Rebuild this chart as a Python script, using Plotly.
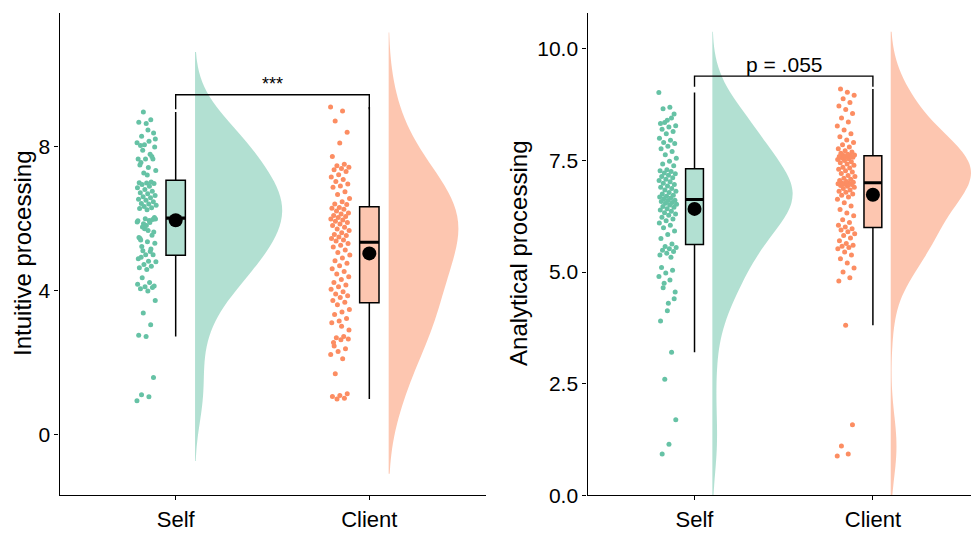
import numpy as np
import plotly.graph_objects as go

# ---------------- data ----------------
categories = ["Self", "Client"]
y_titles = ["Intuitive processing", "Analytical processing"]

intuitive_self = [
    0.93, 1.04, 1.10, 1.58, 2.72, 2.75, 3.04, 3.37, 3.72, 3.98,
    4.04, 4.08, 4.10, 4.17, 4.22, 4.35, 4.12, 4.58, 4.63, 4.67,
    4.72, 4.79, 4.81, 4.92, 4.99, 4.99, 4.88,
    5.08, 5.10, 5.31, 5.35, 5.44, 5.53, 5.71, 5.90, 5.94, 5.22,
    5.62, 5.80, 5.47, 5.15, 5.85, 5.98, 5.66, 5.40, 5.97, 5.99,
    5.93, 5.88, 5.76,
    6.02, 6.24, 6.27, 6.29, 6.33, 6.36, 6.40, 6.41, 6.46, 6.50,
    6.53, 6.57, 6.60, 6.63, 6.68, 6.71, 6.75, 6.80, 6.85, 6.89,
    6.94, 6.97, 6.98,
    6.99, 7.01, 7.26, 7.33, 7.41, 7.55, 7.65, 7.65, 7.65, 7.78,
    7.89, 7.98, 7.20, 7.48, 7.72,
    8.04, 8.10, 8.14, 8.28, 8.37, 8.63, 8.67, 8.74, 8.95, 8.20,
    8.45, 8.02,
]

intuitive_client = [
    9.09, 8.98, 8.70, 8.39, 8.09,
    7.72, 7.50, 7.46, 7.42, 7.38, 7.35, 7.30, 7.21, 7.15, 7.08, 7.02,
    6.95, 6.90, 6.86, 6.74, 6.66, 6.55, 6.46, 6.40, 6.38,
    6.30, 6.28, 6.25, 6.20, 6.15, 6.12, 6.08, 6.05, 6.02, 5.98,
    5.95, 5.92, 5.88, 5.84, 5.80, 5.75, 5.70, 5.66, 5.60, 5.55,
    5.52, 5.48, 5.44, 5.40, 5.37,
    5.30, 5.25, 5.20, 5.12, 5.05, 4.98, 4.90, 4.82, 4.75, 4.68,
    4.60, 4.52, 4.45, 4.38, 4.30, 4.22, 4.15, 4.10, 4.03, 3.96,
    3.90, 3.85, 3.80, 3.72, 3.67,
    3.60, 3.47, 3.40, 3.33, 3.22, 3.15, 3.10, 2.72, 2.68, 2.65,
    2.63, 2.55, 2.38, 2.30, 2.22, 2.10, 1.68, 1.13, 1.08, 1.05,
    1.00, 0.98, 2.90, 3.00, 2.45,
]

analytical_self = [
    9.02, 8.69, 8.66, 8.54, 8.40, 8.33, 8.45, 8.35, 8.28, 8.25,
    8.20, 8.15, 8.10, 8.00, 7.95, 7.90, 7.88, 7.82, 7.76, 7.70,
    7.63, 7.55, 7.48, 7.42, 7.38,
    7.29, 7.27, 7.25, 7.22, 7.20, 7.17, 7.14, 7.11, 7.08, 7.05,
    7.02, 6.99, 6.96, 6.93, 6.90, 6.87, 6.84, 6.81, 6.78, 6.75,
    6.72, 6.70, 6.68, 6.66, 6.64,
    6.61, 6.60, 6.58, 6.56, 6.54, 6.52, 6.50, 6.47, 6.45, 6.42,
    6.39, 6.36, 6.33, 6.30, 6.27, 6.23, 6.19, 6.15, 6.10, 6.05,
    5.99, 5.92, 5.84, 5.75, 5.63,
    5.57, 5.55, 5.52, 5.49, 5.46, 5.42, 5.38, 5.33, 4.75, 4.55,
    4.30, 5.10, 5.04, 4.98, 4.90, 4.82, 4.65, 4.40, 4.13, 3.90,
    3.20, 2.60, 1.69, 1.14, 0.92,
]

analytical_client = [
    0.88, 0.92, 1.10, 1.58,
    3.81, 4.80, 4.87, 5.00, 5.09, 5.20, 5.30, 5.38, 5.45, 5.52,
    5.55, 5.58, 5.60, 5.64, 5.70, 5.76, 5.82, 5.86, 5.90, 5.94, 5.97,
    6.01, 6.05, 6.11, 6.17, 6.26, 6.32, 6.40, 6.48, 6.55, 6.63,
    6.68, 6.72, 6.75, 6.79, 6.81, 6.84, 6.87, 6.90, 6.92, 6.94,
    6.96, 6.97, 6.98, 6.99, 6.99,
    7.01, 7.03, 7.05, 7.08, 7.10, 7.14, 7.16, 7.21, 7.24, 7.27,
    7.30, 7.33, 7.35, 7.39, 7.42, 7.45, 7.47, 7.50, 7.52, 7.54,
    7.56, 7.57, 7.58, 7.59, 7.60,
    7.61, 7.62, 7.64, 7.66, 7.69, 7.72, 7.76, 7.80, 7.85, 7.90,
    7.96, 8.03, 8.10, 8.18, 8.27, 8.36, 8.45, 8.55, 8.64, 8.72,
    8.80, 8.88, 8.96, 9.03, 9.10,
]

sig_labels = ["***", "p = .055"]

# ---------------- styling ----------------
point_colors = ["#66C2A5", "#FC8D62"]
fill_colors = ["rgba(102,194,165,0.5)", "rgba(252,141,98,0.5)"]
violin_widths = [[0.9, 0.72], [0.9, 0.9]]   # full widths (half-violin reaches half of it)
FONT = "Liberation Sans, Arial, sans-serif"
W, H = 971, 538
BW_ADJUST = 1.5


def nrd0(v):
    v = np.asarray(v, float)
    sd = v.std(ddof=1)
    q75, q25 = np.percentile(v, [75, 25])
    lo = min(sd, (q75 - q25) / 1.34)
    return 0.9 * lo * len(v) ** -0.2


def box_stats(v):
    v = np.asarray(v, float)
    q1, med, q3 = np.percentile(v, [25, 50, 75])
    iqr = q3 - q1
    lo = v[v >= q1 - 1.5 * iqr].min()
    hi = v[v <= q3 + 1.5 * iqr].max()
    return q1, med, q3, lo, hi


fig = go.Figure()

panels = [
    ("x", "y", [intuitive_self, intuitive_client]),
    ("x2", "y2", [analytical_self, analytical_client]),
]

for p, (xa, ya, series) in enumerate(panels):
    for i, vals in enumerate(series):
        pos = i + 1
        v = np.asarray(vals, float)
        bw = nrd0(v) * BW_ADJUST
        # half violin (density)
        fig.add_trace(go.Violin(
            y=v, x0=pos + 0.1, side="positive", width=violin_widths[p][i],
            scalemode="width",
            bandwidth=bw, spanmode="manual",
            span=[v.min() - 2 * bw, v.max() + 2 * bw],
            fillcolor=fill_colors[i], line=dict(width=0, color=fill_colors[i]),
            points=False, box_visible=False, meanline_visible=False,
            hoverinfo="skip", showlegend=False, xaxis=xa, yaxis=ya,
        ))
        # jittered raw points
        n = len(v)
        jit = ((np.arange(n) * 0.6180339887) % 1.0 - 0.5) * 0.10
        fig.add_trace(go.Scatter(
            x=pos - 0.15 + jit, y=v, mode="markers",
            marker=dict(size=5, color=point_colors[i]),
            hoverinfo="skip", showlegend=False, xaxis=xa, yaxis=ya,
        ))
        # box
        q1, med, q3, lo, hi = box_stats(v)
        fig.add_trace(go.Box(
            x=[pos], q1=[q1], median=[med], q3=[q3],
            lowerfence=[lo], upperfence=[hi], width=0.1,
            fillcolor=fill_colors[i], line=dict(color="black", width=1.5),
            whiskerwidth=0, boxpoints=False, hoverinfo="skip",
            showlegend=False, xaxis=xa, yaxis=ya,
        ))
        # thick median line
        fig.add_trace(go.Scatter(
            x=[pos - 0.05, pos + 0.05], y=[med, med], mode="lines",
            line=dict(color="black", width=3.2), hoverinfo="skip",
            showlegend=False, xaxis=xa, yaxis=ya,
        ))
        # mean dot
        fig.add_trace(go.Scatter(
            x=[pos], y=[v.mean()], mode="markers",
            marker=dict(size=14, color="black"), hoverinfo="skip",
            showlegend=False, xaxis=xa, yaxis=ya,
        ))

# significance brackets
bracket_y = [9.43, 9.39]
tip_y = [9.03, 9.15]
label_y = [9.74, 9.64]
label_size = [18, 21]
for k, (xa, ya, _) in enumerate(panels):
    fig.add_trace(go.Scatter(
        x=[1, 1, 2, 2], y=[tip_y[k], bracket_y[k], bracket_y[k], tip_y[k]],
        mode="lines", line=dict(color="black", width=1.4),
        hoverinfo="skip", showlegend=False, xaxis=xa, yaxis=ya,
    ))
    fig.add_annotation(
        x=1.5, y=label_y[k], xref=xa, yref=ya, text=sig_labels[k],
        showarrow=False, font=dict(family=FONT, size=label_size[k], color="black"),
        xanchor="center", yanchor="middle",
    )

ydom = [1 - 505.5 / H, 1 - 13 / H]
common_x = dict(
    tickvals=[1, 2], ticktext=categories, showline=True, linecolor="black",
    linewidth=1.3, ticks="outside", ticklen=4, tickwidth=1.2, tickcolor="black",
    showgrid=False, zeroline=False, type="linear",
    tickfont=dict(family=FONT, size=22, color="black"),
)
common_y = dict(
    showline=True, linecolor="black", linewidth=1.3, ticks="outside",
    ticklen=4, tickwidth=1.2, tickcolor="black", showgrid=False,
    zeroline=False, domain=ydom,
    tickfont=dict(family=FONT, size=21, color="black"),
)

fig.update_layout(
    width=W, height=H, autosize=False,
    margin=dict(l=0, r=0, t=0, b=0),
    paper_bgcolor="white", plot_bgcolor="white",
    violinmode="overlay", boxmode="overlay",
    xaxis=dict(domain=[59.5 / W, 485.5 / W], range=[0.4, 2.6], anchor="y", **common_x),
    xaxis2=dict(domain=[587.5 / W, 1.0], range=[0.4, 2.55], anchor="y2", **common_x),
    yaxis=dict(range=[-1.69, 11.71], tickvals=[0, 4, 8], anchor="x", **common_y),
    yaxis2=dict(range=[0, 10.81], tickvals=[0, 2.5, 5, 7.5, 10],
                ticktext=["0.0", "2.5", "5.0", "7.5", "10.0"], anchor="x2", **common_y),
)

# axis titles
title_x = [23, 519]
for k in range(2):
    fig.add_annotation(
        x=title_x[k] / W, y=(ydom[0] + ydom[1]) / 2, xref="paper", yref="paper",
        text=y_titles[k], textangle=-90, showarrow=False,
        font=dict(family=FONT, size=24, color="black"),
        xanchor="center", yanchor="middle",
    )

fig.write_html(
    "out.html",
    config={"displayModeBar": False},
    post_script="document.body.style.margin='0px';document.body.style.overflow='hidden';",
)
